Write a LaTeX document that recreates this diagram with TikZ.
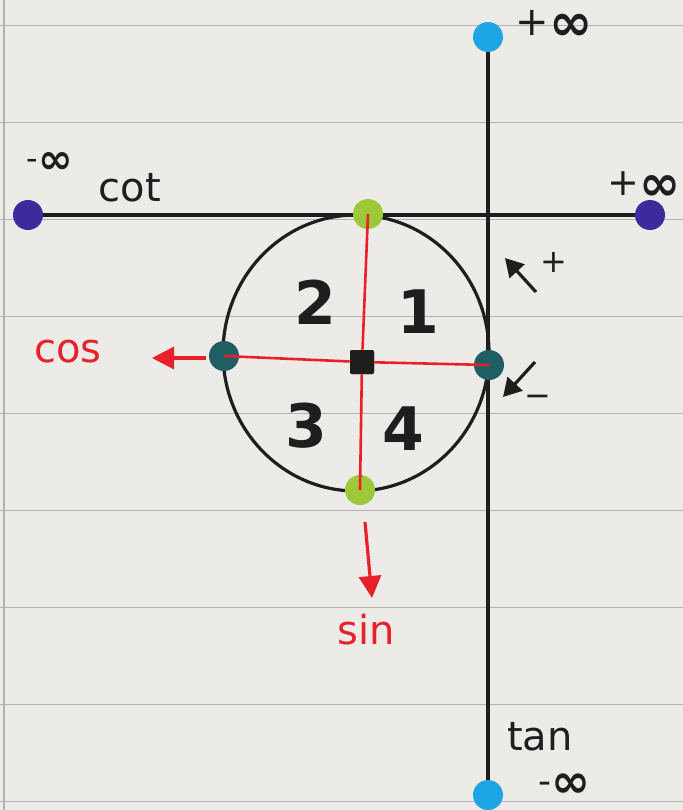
\documentclass[tikz,border=0pt]{standalone}
\usepackage{fontspec}
\setmainfont{DejaVu Sans}
\usetikzlibrary{arrows.meta}
\definecolor{paper}{HTML}{ECEBE8}
\definecolor{rule}{HTML}{B2B2B2}
\definecolor{cotdot}{HTML}{3B2B9C}
\definecolor{tandot}{HTML}{1EA5E6}
\definecolor{sindot}{HTML}{9CC83A}
\definecolor{cosdot}{HTML}{1F5E62}
\definecolor{penred}{HTML}{E8202A}
\definecolor{ink}{HTML}{1E1E1E}
\newcommand{\pinf}[1]{\raisebox{2.5pt}{\fontsize{20}{20}\selectfont #1}{\fontsize{26}{26}\selectfont\bfseries ∞}}
\tikzset{
  dot/.style={circle,inner sep=0pt,minimum size=15pt,fill=#1},
  paperline/.style={rule,line width=0.5pt},
  inkline/.style={ink,line width=1.6pt},
  redline/.style={penred,line width=1.3pt},
  lbl/.style={text=ink,font=\fontsize{20}{22}\selectfont,inner sep=0pt},
  redlbl/.style={text=penred,font=\fontsize{20}{22}\selectfont,inner sep=0pt},
  quad/.style={text=ink,font=\fontsize{30}{32}\selectfont\bfseries,inner sep=0pt},
  redarrow/.style={penred,line width=1.6pt,-{Triangle[length=11pt,width=11pt]}},
  blkarrow/.style={ink,line width=1.6pt,-{Triangle[length=9pt,width=10pt]}},
}
\begin{document}
\begin{tikzpicture}[x=0.5pt,y=-0.5pt]
\fill[paper] (0,0) rectangle (683,810);
\useasboundingbox (0,0) rectangle (683,810);
% ruled paper
\foreach \yy in {25,122,219,316,413,510,607,704,801}
  \draw[paperline] (0,\yy) -- (683,\yy);
\draw[rule,line width=0.8pt] (4,0) -- (4,810);
% nodes on axes
\node[dot=cotdot] (cotL) at (28,215) {};
\node[dot=cotdot] (cotR) at (650,215) {};
\node[dot=tandot] (tanT) at (488,37) {};
\node[dot=tandot] (tanB) at (488,795) {};
% axes
\draw[inkline] (cotL) -- (cotR);
\draw[inkline] (tanT) -- (tanB);
% unit circle
\draw[inkline] (356,353) ellipse [x radius=133, y radius=138];
% points on circle
\node[dot=sindot] (sT) at (368,214) {};
\node[dot=sindot] (sB) at (360,490) {};
\node[dot=cosdot] (cL) at (224,356) {};
\node[dot=cosdot] (cR) at (489,365) {};
\node[fill=ink,minimum size=12pt,inner sep=0pt,rounded corners=1pt] (O) at (362,362) {};
\draw[redline] (cL.center) -- (O) -- (cR.center);
\draw[redline] (sT.center) -- (O) -- (sB.center);
\node[fill=ink,minimum size=12pt,inner sep=0pt,rounded corners=1pt] at (O) {};
% quadrant numbers
\node[quad] (q1) at (418,312) {1};
\node[quad] (q2) at (315,302) {2};
\node[quad] (q3) at (306,426) {3};
\node[quad] (q4) at (403,429) {4};
% cos / sin arrows
\coordinate (cosTail) at (206,358);
\coordinate (cosHead) at (152,358);
\draw[redarrow] (cosTail) -- (cosHead);
\node[redlbl] (cos) at (68,352) {cos};
\coordinate (sinTail) at (365,522);
\coordinate (sinHead) at (372,598);
\draw[redarrow] (sinTail) -- (sinHead);
\node[redlbl] (sin) at (366,630) {sin};
% labels on axes
\node[lbl] (cot) at (130,188) {cot};
\node[lbl,scale=0.8] (mInfL) at (50,163) {\pinf{-}};
\node[lbl,scale=0.95] (pInfR) at (644,186) {\pinf{+}};
\node[lbl] (pInfT) at (554,25) {\pinf{+}};
\node[lbl] (tan) at (540,737) {tan};
\node[lbl,scale=0.9] (mInfB) at (564,786) {\pinf{-}};
% direction arrows
\coordinate (upTail) at (536,292);
\coordinate (upHead) at (505,258);
\draw[blkarrow] (upTail) -- (upHead);
\node[lbl,font=\fontsize{16}{18}\selectfont] (plus) at (554,262) {+};
\coordinate (dnTail) at (535,362);
\coordinate (dnHead) at (503,397);
\draw[blkarrow] (dnTail) -- (dnHead);
\node[lbl,font=\fontsize{16}{18}\selectfont] (minus) at (538,401) {−};
\end{tikzpicture}
\end{document}
